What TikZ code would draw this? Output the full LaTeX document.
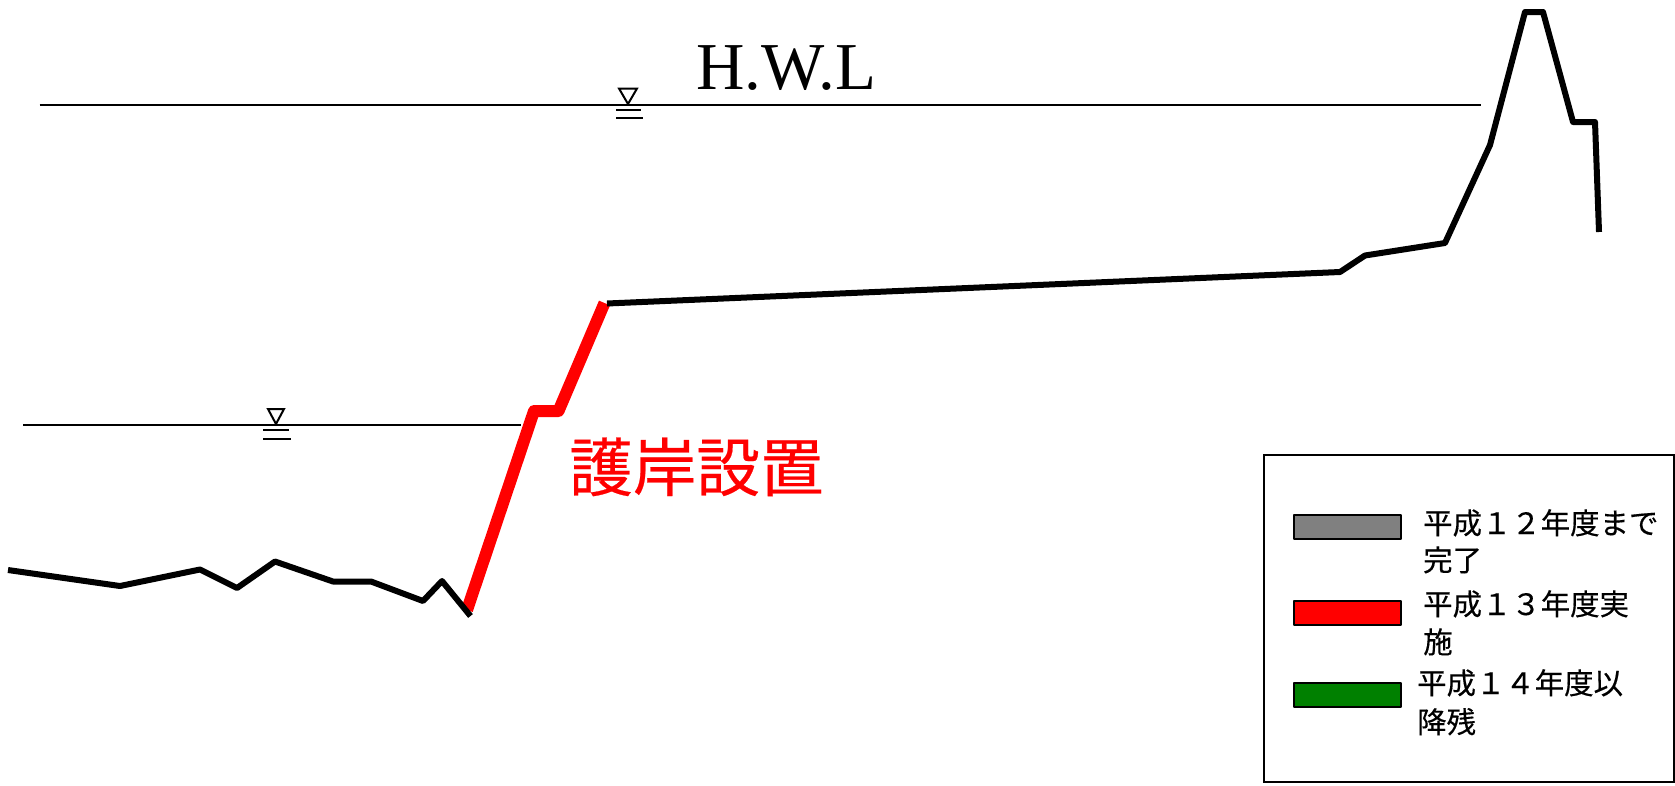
\documentclass[tikz,border=0pt]{standalone}
\usepackage{fontspec}
\setmainfont{Liberation Serif}
\newfontfamily\cjk[FakeBold=0.35]{Noto Sans CJK JP}
\tikzset{
  ground/.style={line width=6pt,black,line join=round},
  works/.style={line width=12pt,red,line join=round},
  wl/.style={line width=2pt,black},
  wlthin/.style={line width=2pt,black},
  swatch/.style={draw=black,line width=2pt,line join=round},
  legtext/.style={anchor=base west,inner sep=0pt,font=\cjk\fontsize{29.4}{29.4}\selectfont,text=black}
}
\begin{document}
\begin{tikzpicture}[x=1pt,y=-1pt]
\useasboundingbox (0,0) rectangle (1675,785);
\fill[white] (0,0) rectangle (1675,785);
% water lines
\draw[wl] (39.5,104.5) -- (1481,104.5);
\draw[wl] (23,424.5) -- (521,424.5);
% water level symbols
\draw[wlthin,line join=miter] (619,88.5) -- (637,88.5) -- (628,104) -- cycle;
\draw[wlthin] (616,110) -- (641,110);
\draw[wlthin] (616,118) -- (643,118);
\draw[wlthin,line join=miter] (268,409) -- (284,409) -- (276,424) -- cycle;
\draw[wlthin] (263,430) -- (289,430);
\draw[wlthin] (263,438.5) -- (291,438.5);
% revetment
\draw[works] (467,610) -- (534,411) -- (558.5,411) -- (604.5,303);
% ground
\draw[ground] (8,570) -- (120,586) -- (200,569.5) -- (237,588) -- (275,561.5) -- (333,581.5) -- (371,581.5) -- (423,601) -- (442,581) -- (470.5,616);
\draw[ground] (607,303.5) -- (1340,272) -- (1365,255.5) -- (1445,243) -- (1490,145) -- (1525,12) -- (1543,12) -- (1573,122) -- (1595,122) -- (1599,232);
% labels
\node[anchor=base west,inner sep=0pt,font=\fontsize{67}{67}\selectfont] (hwl) at (696,89) {H.W.L};
\node[anchor=base west,inner sep=0pt,text=red,font=\cjk\fontsize{63.6}{63.6}\selectfont] (goGan) at (569,491) {護岸設置};
% legend
\draw[black,line width=2pt] (1264,454.5) rectangle (1674,782);
\filldraw[swatch,fill={rgb,255:red,128;green,128;blue,128}] (1294,515) rectangle (1401,539);
\filldraw[swatch,fill=red] (1294,601) rectangle (1401,625);
\filldraw[swatch,fill={rgb,255:red,0;green,128;blue,0}] (1294,683) rectangle (1401,707);
\node[legtext] (a1) at (1423,534) {平成１２年度まで};
\node[legtext] (a2) at (1423,571) {完了};
\node[legtext] (b1) at (1423,615) {平成１３年度実};
\node[legtext] (b2) at (1423,653) {施};
\node[legtext] (c1) at (1417,694) {平成１４年度以};
\node[legtext] (c2) at (1417,733) {降残};
\end{tikzpicture}
\end{document}
